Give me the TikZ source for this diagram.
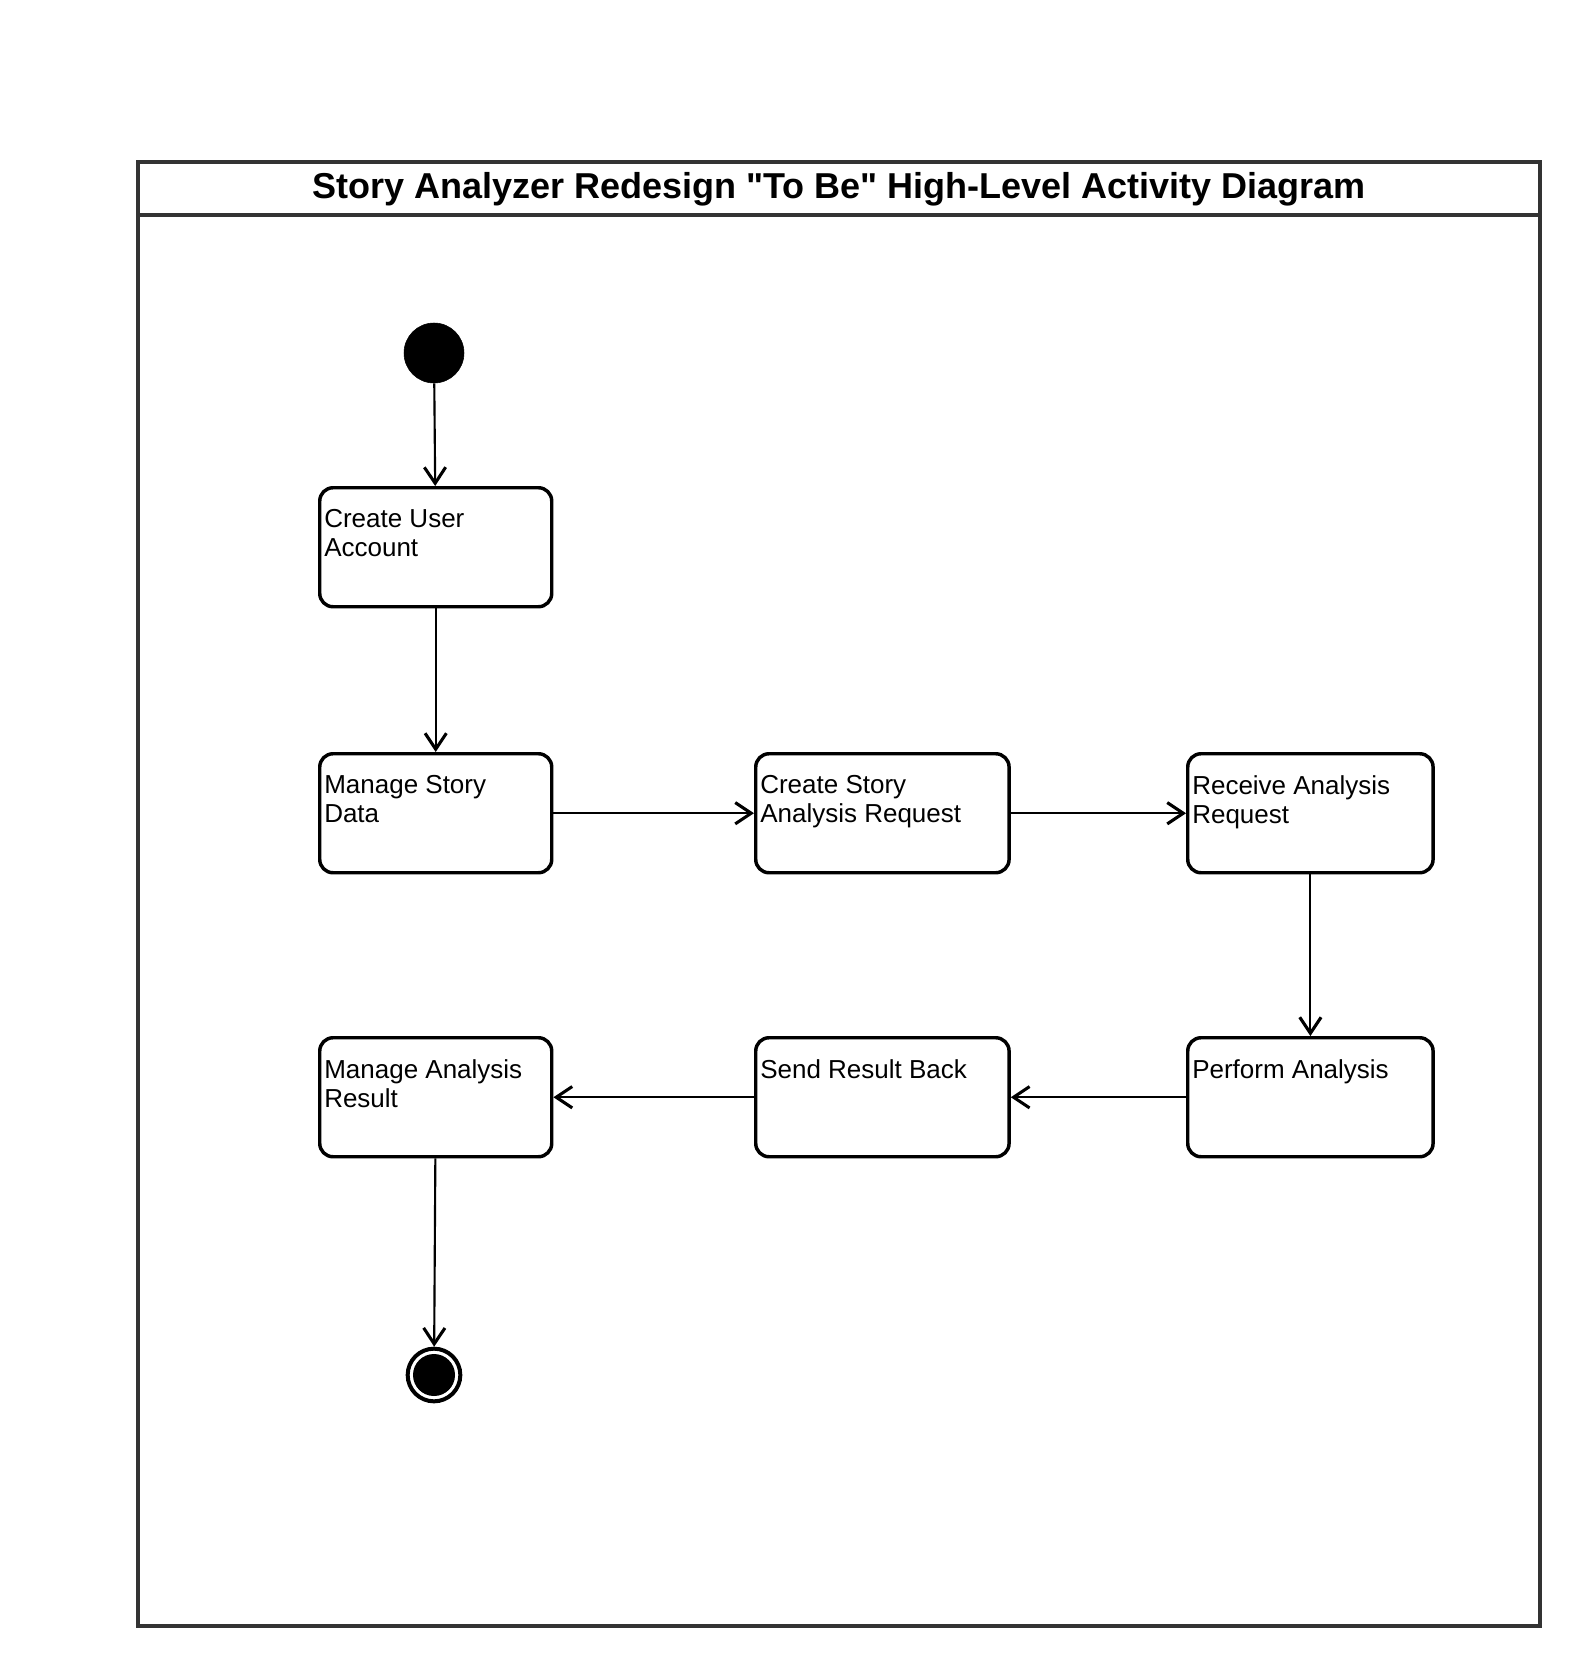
\documentclass[tikz,border=0pt]{standalone}
\usepackage{fontspec}
\setmainfont{Liberation Sans}
\newfontfamily\plainsans{Liberation Sans}
\usetikzlibrary{arrows.meta,calc}
\definecolor{framegray}{HTML}{333333}
\begin{document}
\begin{tikzpicture}[x=0.75pt,y=-0.75pt,
  act/.style={draw, line width=2.6pt, rounded corners=10pt, minimum width=174pt, minimum height=89.25pt, inner sep=0pt, anchor=north west},
  actw/.style={act, minimum width=190pt},
  actr/.style={act, minimum width=184pt},
  lbl/.style={anchor=north west, inner sep=0pt, align=left, font=\plainsans\fontsize{19.5pt}{21.75pt}\selectfont},
  flow/.style={line width=1.6pt, -{Straight Barb[length=12pt,width=16pt,line width=2.3pt]}},
  framebox/.style={draw=framegray, line width=2.4pt}
]
\useasboundingbox (0,0) rectangle (1584,1666);
% frame
\draw[framebox] (138,162) rectangle (1540,1626);
\draw[framebox] (138,215) -- (1540,215);
\node[font=\plainsans\bfseries\fontsize{27pt}{32pt}\selectfont, anchor=base, inner sep=0pt] (title) at (839,199) {Story Analyzer Redesign "To Be" High-Level Activity Diagram};

% start / end
\node[circle, draw, fill, minimum size=45pt, inner sep=0pt] (start) at (434,353) {};
\node[circle, draw, line width=3pt, minimum size=39.5pt, inner sep=0pt] (end) at (434,1375) {};
\node[circle, fill, minimum size=31.5pt, inner sep=0pt] (endin) at (434,1375) {};

% activities
\node[act]  (b1) at (318,486) {};
\node[act]  (b2) at (318,752) {};
\node[actw] (b3) at (754,752) {};
\node[actr] (b4) at (1186,752) {};
\node[act]  (b5) at (318,1036) {};
\node[actw] (b6) at (754,1036) {};
\node[actr] (b7) at (1186,1036) {};

\node[lbl] (t1) at ($(b1.north west)+(6,23)$) {Create User\\Account};
\node[lbl] (t2) at ($(b2.north west)+(6,23)$) {Manage Story\\Data};
\node[lbl] (t3) at ($(b3.north west)+(6,23)$) {Create Story\\Analysis Request};
\node[lbl] (t4) at ($(b4.north west)+(6,23)$) {Receive Analysis\\Request};
\node[lbl] (t5) at ($(b5.north west)+(6,23)$) {Manage Analysis\\Result};
\node[lbl] (t6) at ($(b6.north west)+(6,23)$) {Send Result Back};
\node[lbl] (t7) at ($(b7.north west)+(6,23)$) {Perform Analysis};

% flows
\draw[flow] (start) -- (b1);
\draw[flow] (b1) -- (b2);
\draw[flow] (b2) -- (b3);
\draw[flow] (b3) -- (b4);
\draw[flow] (b4) -- (b7);
\draw[flow] (b7) -- (b6);
\draw[flow] (b6) -- (b5);
\draw[flow] (b5) -- (end);
\end{tikzpicture}
\end{document}
